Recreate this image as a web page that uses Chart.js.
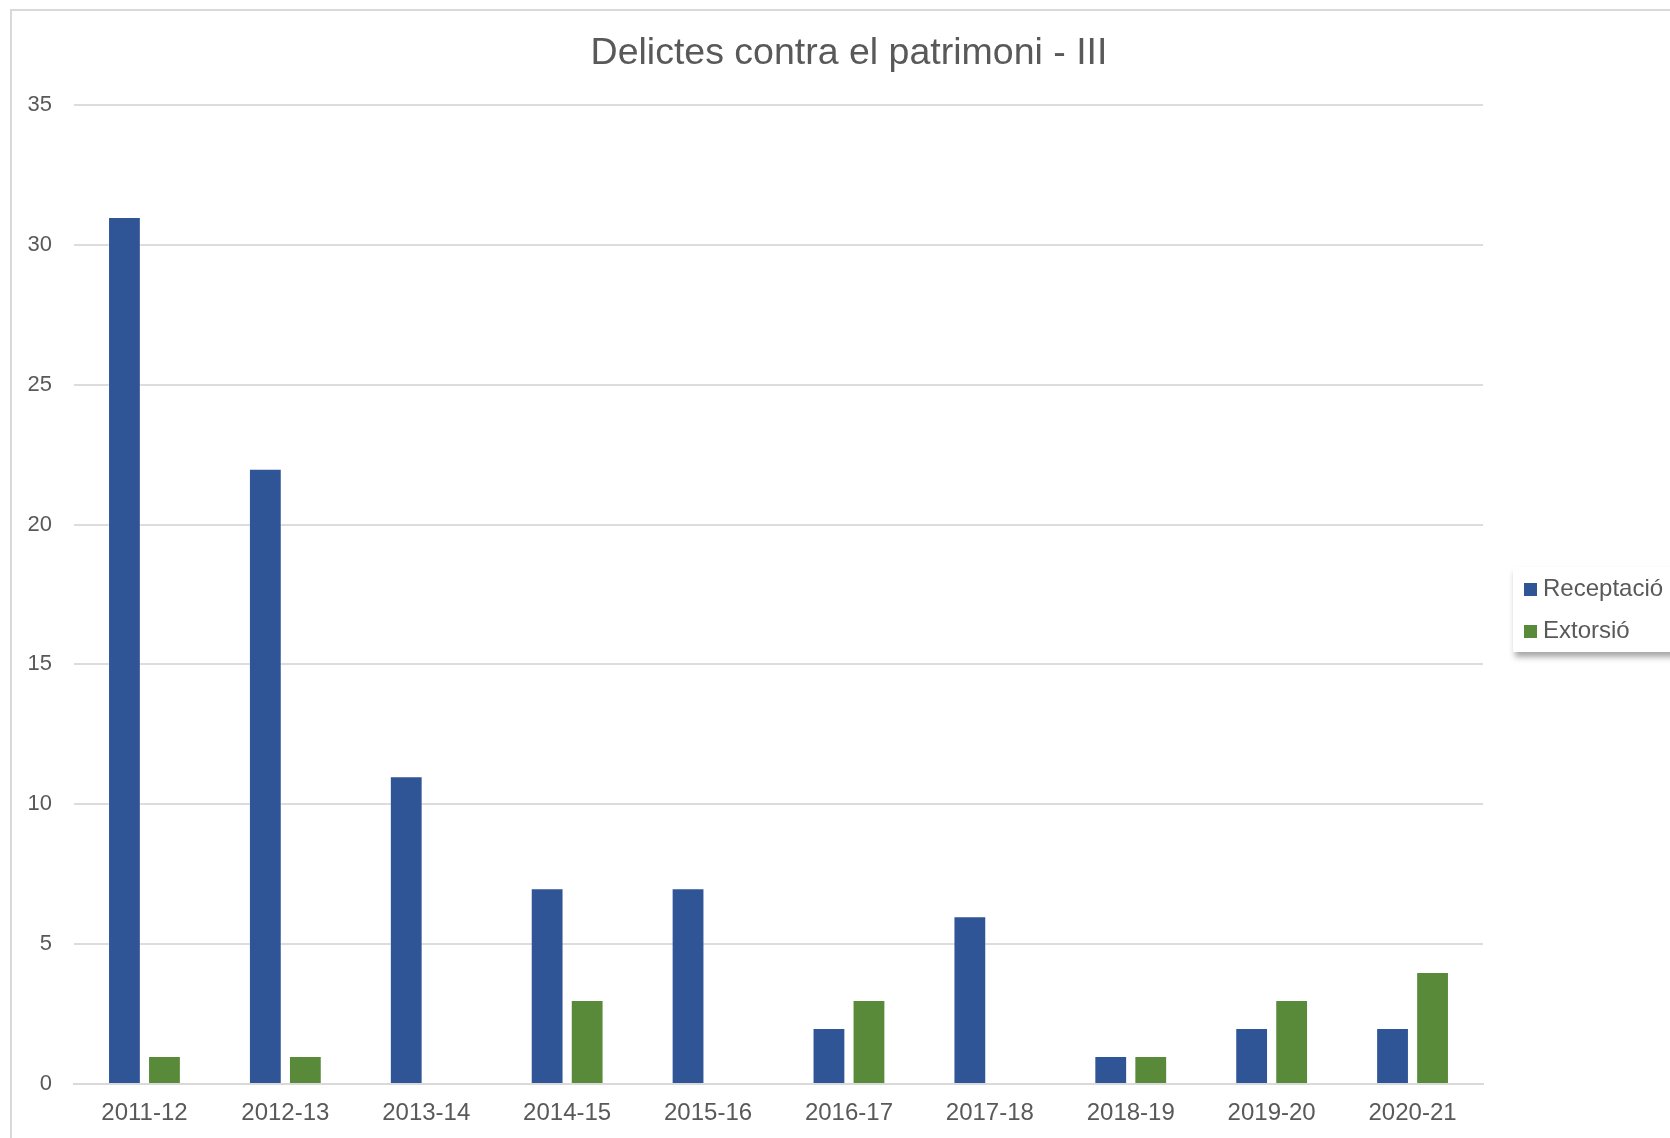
<!DOCTYPE html>
<html>
<head>
<meta charset="utf-8">
<script src="https://cdn.jsdelivr.net/npm/chart.js@4"></script>
<style>
  html, body { margin: 0; padding: 0; background: #fff; overflow: hidden; width: 1670px; height: 1138px; }
  #frame {
    position: absolute; left: 10px; top: 9px; width: 1700px; height: 1200px;
    border-left: 2px solid #d9d9d9; border-top: 2px solid #d9d9d9;
  }
  #legend {
    position: absolute; left: 1513px; top: 567px; width: 200px; height: 85px;
    background: #fff; box-shadow: 2px 5px 6px rgba(0,0,0,0.35);
    font-family: "Liberation Sans", Arial, sans-serif; font-size: 24px; color: #595959;
  }
  .item { position: absolute; left: 11px; height: 30px; line-height: 30px; white-space: nowrap; }
  .swatch { display: inline-block; width: 13px; height: 13px; margin-right: 6px; vertical-align: 0px; }
</style>
</head>
<body>
<div id="frame"><canvas id="chart" width="1674" height="1127"></canvas></div>
<div id="legend"></div>
<script>
// years on the x axis
const categories = ['2011-12', '2012-13', '2013-14', '2014-15', '2015-16', '2016-17', '2017-18', '2018-19', '2019-20', '2020-21'];
const receptacio = [31, 22, 11, 7, 7, 2, 6, 1, 2, 2];
const extorsio = [1, 1, 0, 3, 0, 3, 0, 1, 3, 4];
const seriesNames = ['Receptació', 'Extorsió'];
const seriesColors = ['#2f5597', '#588a39'];

const ctx = document.getElementById('chart').getContext('2d');
const chart = new Chart(ctx, {
    type: 'bar',
    data: {
        labels: categories,
        datasets: [
            { label: seriesNames[0], data: receptacio, backgroundColor: seriesColors[0] },
            { label: seriesNames[1], data: extorsio, backgroundColor: seriesColors[1] }
        ]
    },
    options: {
        responsive: false,
        animation: false,
        datasets: {
            bar: {
                categoryPercentage: 0.568,
                barPercentage: 0.82,
                borderWidth: 1,
                borderColor: 'rgba(255,255,255,0.3)'
            }
        },
        layout: { padding: 0 },
        scales: {
            x: {
                grid: { display: false, drawTicks: false },
                border: { color: '#d9d9d9', width: 2 },
                ticks: {
                    color: '#595959',
                    padding: 15,
                    maxRotation: 0,
                    font: { family: 'Liberation Sans', size: 24 }
                },
                afterFit: (scale) => { scale.height = 54; }
            },
            y: {
                min: 0,
                max: 35,
                grid: { color: '#dcdcdc', lineWidth: 2, drawTicks: false },
                border: { display: false },
                ticks: {
                    stepSize: 5,
                    color: '#595959',
                    padding: 22,
                    font: { family: 'Liberation Sans', size: 22 }
                },
                afterFit: (scale) => { scale.width = 62; }
            },
            // empty space on the right where the legend sits
            spacer: {
                type: 'linear',
                position: 'right',
                grid: { display: false, drawTicks: false },
                border: { display: false },
                ticks: { display: false },
                afterFit: (scale) => { scale.width = 203; }
            }
        },
        plugins: {
            legend: { display: false },
            tooltip: { enabled: false },
            title: {
                display: true,
                text: 'Delictes contra el patrimoni - III',
                color: '#595959',
                font: { family: 'Liberation Sans', size: 37.5, weight: 'normal' },
                padding: { top: 20, bottom: 29 }
            }
        }
    }
});

// legend box next to the plot
const legend = document.getElementById('legend');
seriesNames.forEach((name, i) => {
    const row = document.createElement('div');
    row.className = 'item';
    row.style.top = (6 + i * 42) + 'px';
    row.innerHTML = '<span class="swatch" style="background:' + seriesColors[i] + '"></span>' + name;
    legend.appendChild(row);
});
</script>
</body>
</html>
